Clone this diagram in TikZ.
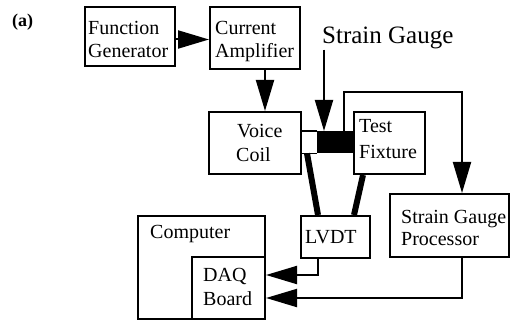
\documentclass[tikz,border=0pt]{standalone}
\usepackage{fontspec}
\setmainfont{Liberation Serif}
\usetikzlibrary{arrows.meta}
\begin{document}
\begin{tikzpicture}[x=1pt,y=-1pt,
  box/.style={draw, line width=2pt, rectangle, inner sep=0pt, anchor=north west},
  lbl/.style={anchor=base west, inner sep=0pt, font=\fontsize{20}{24}\selectfont},
  conn/.style={line width=2pt},
  arr/.style={conn, -{Triangle[length=31pt, width=18pt]}},
  leg/.style={line width=6pt},
  thinline/.style={line width=1.5pt}]
\useasboundingbox (0,0) rectangle (510,320);

% boxes
\node[box, minimum width=90pt, minimum height=59pt] (fg) at (84,6) {};
\node[box, minimum width=90pt, minimum height=62pt] (ca) at (209,6) {};
\node[box, minimum width=92pt, minimum height=62pt] (vc) at (208,111) {};
\node[box, minimum width=71pt, minimum height=62pt] (tf) at (353,111) {};
\node[box, minimum width=119pt, minimum height=63pt] (sgp) at (389,193) {};
\node[box, minimum width=69pt, minimum height=42pt] (lvdt) at (300,215) {};
\node[box, minimum width=127pt, minimum height=103pt] (comp) at (137,215) {};
\node[box, minimum width=73pt, minimum height=62pt] (daq) at (191,256) {};
\node[fill=black, anchor=north west, inner sep=0pt, minimum width=36pt, minimum height=22pt] (sg) at (317,131) {};

% texts
\node[anchor=base west, inner sep=0pt, font=\fontsize{18}{20}\selectfont\bfseries] (lbla) at (12,27) {(a)};
\node[lbl] (fgt1) at (88,35) {Function};
\node[lbl] (fgt2) at (88,58) {Generator};
\node[lbl] (cat1) at (215,35) {Current};
\node[lbl] (cat2) at (215,58) {Amplifier};
\node[lbl] (vct1) at (237,138) {Voice};
\node[lbl] (vct2) at (236,162) {Coil};
\node[lbl] (tft1) at (359,133) {Test};
\node[lbl] (tft2) at (359,159) {Fixture};
\node[lbl] (sgpt1) at (401,223) {Strain Gauge};
\node[lbl] (sgpt2) at (401,245) {Processor};
\node[lbl] (lvdtt) at (305,243) {LVDT};
\node[lbl] (compt) at (150,238) {Computer};
\node[lbl] (daqt1) at (203,281) {DAQ};
\node[lbl] (daqt2) at (203,305) {Board};
\node[anchor=base west, inner sep=0pt, font=\fontsize{25}{28}\selectfont] (sglbl) at (322,44) {Strain Gauge};

\coordinate (fb) at (462,92);

% connectors
\draw[arr] ([yshift=-3pt]fg.east) -- ([yshift=-3pt]fg.east -| ca.west);
\draw[arr] ([xshift=10pt]ca.south) -- ([xshift=10pt]ca.south |- vc.north);
\draw[arr] ([xshift=2pt]sglbl.south west) -- ([xshift=2pt]sglbl.south west |- sg.north);
\draw[arr] ([xshift=9pt]sg.north) |- (fb) -- (fb |- sgp.north);
\draw[thinline] (sg.north west) -- (sg.north west -| vc.east);
\draw[thinline] (sg.south west) -- (sg.south west -| vc.east);
\draw[leg] ([xshift=-10pt]sg.south west) -- ([xshift=18pt]lvdt.north west);
\draw[leg] ([xshift=10pt]tf.south west) -- ([xshift=54pt]lvdt.north west);
\draw[arr] ([xshift=18pt]lvdt.south west) |- ([yshift=13pt]daq.east);
\draw[arr] (sgp.south -| fb) |- ([yshift=-10pt]daq.east);
\end{tikzpicture}
\end{document}
